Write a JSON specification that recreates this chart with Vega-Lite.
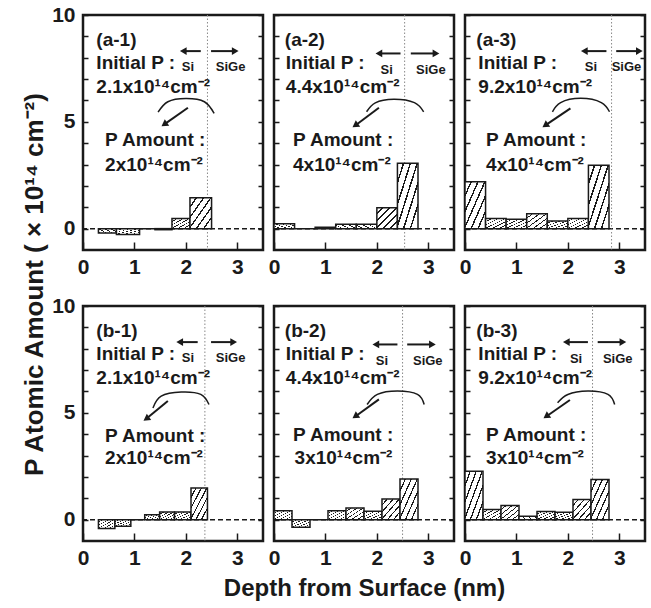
{
 "$schema": "https://vega.github.io/schema/vega-lite/v6.json",
 "padding": {"left": 19, "top": 2, "right": 5, "bottom": 5},
 "background": "white",
 "columns": 3,
 "spacing": {"row": 56, "column": 11},
 "bounds": "flush",
 "datasets": {
  "zero": [{"y": 0}],
  "iface": [
   {"panel": "a-1", "depth": 2.42}, {"panel": "a-2", "depth": 2.54}, {"panel": "a-3", "depth": 2.85},
   {"panel": "b-1", "depth": 2.37}, {"panel": "b-2", "depth": 2.5}, {"panel": "b-3", "depth": 2.48}
  ],
  "bars": [
   {"panel": "a-1", "x0": 0.3, "x1": 0.65, "amount": -0.2},
   {"panel": "a-1", "x0": 0.65, "x1": 1.1, "amount": -0.27},
   {"panel": "a-1", "x0": 1.1, "x1": 1.4, "amount": 0},
   {"panel": "a-1", "x0": 1.4, "x1": 1.73, "amount": -0.05},
   {"panel": "a-1", "x0": 1.73, "x1": 2.08, "amount": 0.47},
   {"panel": "a-1", "x0": 2.08, "x1": 2.5, "amount": 1.44},
   {"panel": "a-2", "x0": 0, "x1": 0.4, "amount": 0.23},
   {"panel": "a-2", "x0": 0.4, "x1": 0.8, "amount": 0},
   {"panel": "a-2", "x0": 0.8, "x1": 1.2, "amount": 0.06},
   {"panel": "a-2", "x0": 1.2, "x1": 1.6, "amount": 0.2},
   {"panel": "a-2", "x0": 1.6, "x1": 2.0, "amount": 0.2},
   {"panel": "a-2", "x0": 2.0, "x1": 2.4, "amount": 0.98},
   {"panel": "a-2", "x0": 2.4, "x1": 2.8, "amount": 3.06},
   {"panel": "a-3", "x0": 0, "x1": 0.4, "amount": 2.19},
   {"panel": "a-3", "x0": 0.4, "x1": 0.8, "amount": 0.47},
   {"panel": "a-3", "x0": 0.8, "x1": 1.2, "amount": 0.44},
   {"panel": "a-3", "x0": 1.2, "x1": 1.6, "amount": 0.7},
   {"panel": "a-3", "x0": 1.6, "x1": 2.0, "amount": 0.36},
   {"panel": "a-3", "x0": 2.0, "x1": 2.4, "amount": 0.48},
   {"panel": "a-3", "x0": 2.4, "x1": 2.8, "amount": 2.97},
   {"panel": "b-1", "x0": 0.3, "x1": 0.62, "amount": -0.42},
   {"panel": "b-1", "x0": 0.62, "x1": 0.93, "amount": -0.31},
   {"panel": "b-1", "x0": 0.93, "x1": 1.2, "amount": 0},
   {"panel": "b-1", "x0": 1.2, "x1": 1.49, "amount": 0.23},
   {"panel": "b-1", "x0": 1.49, "x1": 1.78, "amount": 0.36},
   {"panel": "b-1", "x0": 1.78, "x1": 2.1, "amount": 0.36},
   {"panel": "b-1", "x0": 2.1, "x1": 2.42, "amount": 1.48},
   {"panel": "b-2", "x0": 0, "x1": 0.35, "amount": 0.42},
   {"panel": "b-2", "x0": 0.35, "x1": 0.7, "amount": -0.36},
   {"panel": "b-2", "x0": 0.7, "x1": 1.05, "amount": 0},
   {"panel": "b-2", "x0": 1.05, "x1": 1.4, "amount": 0.42},
   {"panel": "b-2", "x0": 1.4, "x1": 1.75, "amount": 0.55},
   {"panel": "b-2", "x0": 1.75, "x1": 2.1, "amount": 0.39},
   {"panel": "b-2", "x0": 2.1, "x1": 2.45, "amount": 0.97},
   {"panel": "b-2", "x0": 2.45, "x1": 2.8, "amount": 1.9},
   {"panel": "b-3", "x0": 0, "x1": 0.35, "amount": 2.27},
   {"panel": "b-3", "x0": 0.35, "x1": 0.7, "amount": 0.47},
   {"panel": "b-3", "x0": 0.7, "x1": 1.05, "amount": 0.66},
   {"panel": "b-3", "x0": 1.05, "x1": 1.4, "amount": 0.16},
   {"panel": "b-3", "x0": 1.4, "x1": 1.75, "amount": 0.38},
   {"panel": "b-3", "x0": 1.75, "x1": 2.1, "amount": 0.34},
   {"panel": "b-3", "x0": 2.1, "x1": 2.45, "amount": 0.94},
   {"panel": "b-3", "x0": 2.45, "x1": 2.8, "amount": 1.88}
  ],
  "texts": [
   {"panel": "a-1", "role": "main", "x": 0.26, "y": 8.83, "t": "(a-1)"},
   {"panel": "a-1", "role": "main", "x": 0.26, "y": 7.73, "t": "Initial P :"},
   {"panel": "a-1", "role": "main", "x": 0.26, "y": 6.64, "t": "2.1x10¹⁴cm⁻²"},
   {"panel": "a-1", "role": "main", "x": 0.43, "y": 4.14, "t": "P Amount :"},
   {"panel": "a-1", "role": "main", "x": 0.43, "y": 2.97, "t": "2x10¹⁴cm⁻²"},
   {"panel": "a-1", "role": "small", "x": 2.04, "y": 7.58, "t": "Si"},
   {"panel": "a-1", "role": "small", "x": 2.87, "y": 7.58, "t": "SiGe"},
   {"panel": "a-2", "role": "main", "x": 0.21, "y": 8.83, "t": "(a-2)"},
   {"panel": "a-2", "role": "main", "x": 0.23, "y": 7.73, "t": "Initial P :"},
   {"panel": "a-2", "role": "main", "x": 0.23, "y": 6.64, "t": "4.4x10¹⁴cm⁻²"},
   {"panel": "a-2", "role": "main", "x": 0.37, "y": 4.14, "t": "P Amount :"},
   {"panel": "a-2", "role": "main", "x": 0.37, "y": 2.97, "t": "4x10¹⁴cm⁻²"},
   {"panel": "a-2", "role": "small", "x": 2.19, "y": 7.42, "t": "Si"},
   {"panel": "a-2", "role": "small", "x": 3.05, "y": 7.42, "t": "SiGe"},
   {"panel": "a-3", "role": "main", "x": 0.22, "y": 8.83, "t": "(a-3)"},
   {"panel": "a-3", "role": "main", "x": 0.26, "y": 7.73, "t": "Initial P :"},
   {"panel": "a-3", "role": "main", "x": 0.26, "y": 6.64, "t": "9.2x10¹⁴cm⁻²"},
   {"panel": "a-3", "role": "main", "x": 0.41, "y": 4.14, "t": "P Amount :"},
   {"panel": "a-3", "role": "main", "x": 0.41, "y": 2.97, "t": "4x10¹⁴cm⁻²"},
   {"panel": "a-3", "role": "small", "x": 2.45, "y": 7.58, "t": "Si"},
   {"panel": "a-3", "role": "small", "x": 3.14, "y": 7.58, "t": "SiGe"},
   {"panel": "b-1", "role": "main", "x": 0.26, "y": 8.83, "t": "(b-1)"},
   {"panel": "b-1", "role": "main", "x": 0.26, "y": 7.73, "t": "Initial P :"},
   {"panel": "b-1", "role": "main", "x": 0.26, "y": 6.64, "t": "2.1x10¹⁴cm⁻²"},
   {"panel": "b-1", "role": "main", "x": 0.43, "y": 3.9, "t": "P Amount :"},
   {"panel": "b-1", "role": "main", "x": 0.43, "y": 2.89, "t": "2x10¹⁴cm⁻²"},
   {"panel": "b-1", "role": "small", "x": 2.04, "y": 7.58, "t": "Si"},
   {"panel": "b-1", "role": "small", "x": 2.87, "y": 7.58, "t": "SiGe"},
   {"panel": "b-2", "role": "main", "x": 0.21, "y": 8.83, "t": "(b-2)"},
   {"panel": "b-2", "role": "main", "x": 0.23, "y": 7.73, "t": "Initial P :"},
   {"panel": "b-2", "role": "main", "x": 0.23, "y": 6.64, "t": "4.4x10¹⁴cm⁻²"},
   {"panel": "b-2", "role": "main", "x": 0.37, "y": 3.98, "t": "P Amount :"},
   {"panel": "b-2", "role": "main", "x": 0.4, "y": 2.89, "t": "3x10¹⁴cm⁻²"},
   {"panel": "b-2", "role": "small", "x": 2.1, "y": 7.42, "t": "Si"},
   {"panel": "b-2", "role": "small", "x": 2.99, "y": 7.42, "t": "SiGe"},
   {"panel": "b-3", "role": "main", "x": 0.22, "y": 8.83, "t": "(b-3)"},
   {"panel": "b-3", "role": "main", "x": 0.26, "y": 7.73, "t": "Initial P :"},
   {"panel": "b-3", "role": "main", "x": 0.26, "y": 6.64, "t": "9.2x10¹⁴cm⁻²"},
   {"panel": "b-3", "role": "main", "x": 0.41, "y": 3.98, "t": "P Amount :"},
   {"panel": "b-3", "role": "main", "x": 0.41, "y": 2.89, "t": "3x10¹⁴cm⁻²"},
   {"panel": "b-3", "role": "small", "x": 2.16, "y": 7.5, "t": "Si"},
   {"panel": "b-3", "role": "small", "x": 2.97, "y": 7.5, "t": "SiGe"}
  ],
  "harrows": [
   {"panel": "a-1", "xs": 2.29, "xe": 1.95, "y": 8.31, "dir": "left"},
   {"panel": "a-1", "xs": 2.49, "xe": 2.96, "y": 8.31, "dir": "right"},
   {"panel": "a-2", "xs": 2.46, "xe": 2.04, "y": 8.2, "dir": "left"},
   {"panel": "a-2", "xs": 2.66, "xe": 3.15, "y": 8.2, "dir": "right"},
   {"panel": "a-3", "xs": 2.75, "xe": 2.32, "y": 8.31, "dir": "left"},
   {"panel": "a-3", "xs": 2.94, "xe": 3.39, "y": 8.31, "dir": "right"},
   {"panel": "b-1", "xs": 2.23, "xe": 1.88, "y": 8.31, "dir": "left"},
   {"panel": "b-1", "xs": 2.49, "xe": 2.93, "y": 8.31, "dir": "right"},
   {"panel": "b-2", "xs": 2.4, "xe": 1.98, "y": 8.2, "dir": "left"},
   {"panel": "b-2", "xs": 2.59, "xe": 3.08, "y": 8.2, "dir": "right"},
   {"panel": "b-3", "xs": 2.39, "xe": 1.97, "y": 8.31, "dir": "left"},
   {"panel": "b-3", "xs": 2.58, "xe": 3.07, "y": 8.31, "dir": "right"}
  ],
  "darrows": [
   {"panel": "a-1", "xs": 2.04, "ys": 5.66, "xe": 1.58, "ye": 4.88},
   {"panel": "a-2", "xs": 2.04, "ys": 5.66, "xe": 1.58, "ye": 4.83},
   {"panel": "a-3", "xs": 2.05, "ys": 5.63, "xe": 1.56, "ye": 4.83},
   {"panel": "b-1", "xs": 1.65, "ys": 5.55, "xe": 1.23, "ye": 4.72},
   {"panel": "b-2", "xs": 2.04, "ys": 5.63, "xe": 1.58, "ye": 4.83},
   {"panel": "b-3", "xs": 2.04, "ys": 5.6, "xe": 1.58, "ye": 4.83}
  ],
  "arcs": [
   {"panel": "a-1", "seq": 1, "x": 1.46, "y": 5.45}, {"panel": "a-1", "seq": 2, "x": 1.65, "y": 5.94}, {"panel": "a-1", "seq": 3, "x": 2.0, "y": 6.09}, {"panel": "a-1", "seq": 4, "x": 2.36, "y": 5.94}, {"panel": "a-1", "seq": 5, "x": 2.55, "y": 5.39},
   {"panel": "a-2", "seq": 1, "x": 1.8, "y": 5.47}, {"panel": "a-2", "seq": 2, "x": 1.97, "y": 5.89}, {"panel": "a-2", "seq": 3, "x": 2.33, "y": 6.06}, {"panel": "a-2", "seq": 4, "x": 2.73, "y": 5.9}, {"panel": "a-2", "seq": 5, "x": 2.91, "y": 5.47},
   {"panel": "a-3", "seq": 1, "x": 1.7, "y": 5.47}, {"panel": "a-3", "seq": 2, "x": 1.86, "y": 5.9}, {"panel": "a-3", "seq": 3, "x": 2.25, "y": 6.1}, {"panel": "a-3", "seq": 4, "x": 2.65, "y": 5.9}, {"panel": "a-3", "seq": 5, "x": 2.81, "y": 5.47},
   {"panel": "b-1", "seq": 1, "x": 1.36, "y": 5.23}, {"panel": "b-1", "seq": 2, "x": 1.52, "y": 5.78}, {"panel": "b-1", "seq": 3, "x": 1.91, "y": 5.97}, {"panel": "b-1", "seq": 4, "x": 2.29, "y": 5.86}, {"panel": "b-1", "seq": 5, "x": 2.45, "y": 5.39},
   {"panel": "b-2", "seq": 1, "x": 1.81, "y": 5.39}, {"panel": "b-2", "seq": 2, "x": 2.01, "y": 5.86}, {"panel": "b-2", "seq": 3, "x": 2.4, "y": 6.02}, {"panel": "b-2", "seq": 4, "x": 2.79, "y": 5.86}, {"panel": "b-2", "seq": 5, "x": 2.92, "y": 5.39},
   {"panel": "b-3", "seq": 1, "x": 1.8, "y": 5.47}, {"panel": "b-3", "seq": 2, "x": 2.0, "y": 5.86}, {"panel": "b-3", "seq": 3, "x": 2.39, "y": 6.02}, {"panel": "b-3", "seq": 4, "x": 2.78, "y": 5.86}, {"panel": "b-3", "seq": 5, "x": 2.91, "y": 5.39}
  ]
 },
 "concat": [
  {"width": 180, "height": 235, "resolve": {"axis": {"y": "independent"}}, "layer": [
   {"layer": [
    {"data": {"name": "zero"}, "mark": {"type": "rule", "strokeDash": [5, 3], "strokeWidth": 1.5, "color": "#1a1a1a"},
     "encoding": {"y": {"field": "y", "type": "quantitative", "scale": {"domain": [-1, 10], "nice": false},
      "axis": {"values": [0, 5, 10], "format": "d", "ticks": false, "labelPadding": 8, "labelOverlap": false,
       "title": "P Atomic Amount ( × 10¹⁴ cm⁻²)", "titleX": -49, "titleY": 269, "titleAngle": 270, "titleAlign": "center", "titleBaseline": "middle", "titleFontSize": 26}}}},
    {"data": {"name": "iface"}, "transform": [{"filter": "datum.panel === 'a-1'"}], "mark": {"type": "rule", "strokeDash": [1.5, 2], "strokeWidth": 1, "color": "#888888"},
     "encoding": {"x": {"field": "depth", "type": "quantitative", "scale": {"domain": [0, 3.5], "nice": false}, "axis": {"values": [0,1,2,3], "format": "d", "tickSize": -8, "labelPadding": 14, "labelFlush": false, "title": null}}}},
    {"data": {"name": "bars"}, "transform": [{"filter": "datum.panel === 'a-1'"}], "mark": {"type": "rect"},
     "encoding": {"x": {"field": "x0", "type": "quantitative"}, "x2": {"field": "x1"}, "y": {"field": "amount", "type": "quantitative"}, "y2": {"datum": 0}}},
    {"data": {"name": "arcs"}, "transform": [{"filter": "datum.panel === 'a-1'"}], "mark": {"type": "line", "interpolate": "natural", "color": "#1a1a1a", "strokeWidth": 1.5},
     "encoding": {"x": {"field": "x", "type": "quantitative"}, "y": {"field": "y", "type": "quantitative"}, "order": {"field": "seq", "type": "quantitative"}}},
    {"data": {"name": "harrows"}, "transform": [{"filter": "datum.panel === 'a-1'"}], "mark": {"type": "rule", "strokeWidth": 2, "color": "#1a1a1a"},
     "encoding": {"x": {"field": "xs", "type": "quantitative"}, "x2": {"field": "xe"}, "y": {"field": "y", "type": "quantitative"}}},
    {"data": {"name": "harrows"}, "transform": [{"filter": "datum.panel === 'a-1'"}], "mark": {"type": "point", "filled": true, "size": 60, "color": "#1a1a1a", "opacity": 1},
     "encoding": {"x": {"field": "xe", "type": "quantitative"}, "y": {"field": "y", "type": "quantitative"}, "shape": {"field": "dir", "type": "nominal", "scale": {"domain": ["left", "right"], "range": ["triangle-left", "triangle-right"]}, "legend": null}}},
    {"data": {"name": "darrows"}, "transform": [{"filter": "datum.panel === 'a-1'"}], "mark": {"type": "rule", "strokeWidth": 2, "color": "#1a1a1a"},
     "encoding": {"x": {"field": "xs", "type": "quantitative"}, "y": {"field": "ys", "type": "quantitative"}, "x2": {"field": "xe"}, "y2": {"field": "ye"}}},
    {"data": {"name": "darrows"}, "transform": [{"filter": "datum.panel === 'a-1'"}], "mark": {"type": "point", "shape": "triangle-up", "filled": true, "size": 60, "angle": 235, "color": "#1a1a1a", "opacity": 1},
     "encoding": {"x": {"field": "xe", "type": "quantitative"}, "y": {"field": "ye", "type": "quantitative"}}},
    {"data": {"name": "texts"}, "transform": [{"filter": "datum.panel === 'a-1' && datum.role === 'main'"}], "mark": {"type": "text", "align": "left", "baseline": "middle", "fontSize": 19},
     "encoding": {"x": {"field": "x", "type": "quantitative"}, "y": {"field": "y", "type": "quantitative"}, "text": {"field": "t"}}},
    {"data": {"name": "texts"}, "transform": [{"filter": "datum.panel === 'a-1' && datum.role === 'small'"}], "mark": {"type": "text", "align": "center", "baseline": "middle", "fontSize": 13},
     "encoding": {"x": {"field": "x", "type": "quantitative"}, "y": {"field": "y", "type": "quantitative"}, "text": {"field": "t"}}}
   ]},
   {"data": {"name": "zero"}, "mark": {"type": "rule", "opacity": 0},
    "encoding": {"y": {"field": "y", "type": "quantitative", "axis": {"orient": "right", "values": [0,1,2,3,4,5,6,7,8,9,10], "ticks": false, "labels": false, "title": null, "grid": true, "gridDash": [5, 170, 5, 0], "gridColor": "#1a1a1a", "gridWidth": 1.5, "gridOpacity": 1}}}}
  ]},
  {"width": 180, "height": 235, "resolve": {"axis": {"y": "independent"}}, "layer": [
   {"layer": [
    {"data": {"name": "zero"}, "mark": {"type": "rule", "strokeDash": [5, 3], "strokeWidth": 1.5, "color": "#1a1a1a"},
     "encoding": {"y": {"field": "y", "type": "quantitative", "scale": {"domain": [-1, 10], "nice": false}, "axis": null}}},
    {"data": {"name": "iface"}, "transform": [{"filter": "datum.panel === 'a-2'"}], "mark": {"type": "rule", "strokeDash": [1.5, 2], "strokeWidth": 1, "color": "#888888"},
     "encoding": {"x": {"field": "depth", "type": "quantitative", "scale": {"domain": [0, 3.5], "nice": false}, "axis": {"values": [0,1,2,3], "format": "d", "tickSize": -8, "labelPadding": 14, "labelFlush": false, "title": null}}}},
    {"data": {"name": "bars"}, "transform": [{"filter": "datum.panel === 'a-2'"}], "mark": {"type": "rect"},
     "encoding": {"x": {"field": "x0", "type": "quantitative"}, "x2": {"field": "x1"}, "y": {"field": "amount", "type": "quantitative"}, "y2": {"datum": 0}}},
    {"data": {"name": "arcs"}, "transform": [{"filter": "datum.panel === 'a-2'"}], "mark": {"type": "line", "interpolate": "natural", "color": "#1a1a1a", "strokeWidth": 1.5},
     "encoding": {"x": {"field": "x", "type": "quantitative"}, "y": {"field": "y", "type": "quantitative"}, "order": {"field": "seq", "type": "quantitative"}}},
    {"data": {"name": "harrows"}, "transform": [{"filter": "datum.panel === 'a-2'"}], "mark": {"type": "rule", "strokeWidth": 2, "color": "#1a1a1a"},
     "encoding": {"x": {"field": "xs", "type": "quantitative"}, "x2": {"field": "xe"}, "y": {"field": "y", "type": "quantitative"}}},
    {"data": {"name": "harrows"}, "transform": [{"filter": "datum.panel === 'a-2'"}], "mark": {"type": "point", "filled": true, "size": 60, "color": "#1a1a1a", "opacity": 1},
     "encoding": {"x": {"field": "xe", "type": "quantitative"}, "y": {"field": "y", "type": "quantitative"}, "shape": {"field": "dir", "type": "nominal", "scale": {"domain": ["left", "right"], "range": ["triangle-left", "triangle-right"]}, "legend": null}}},
    {"data": {"name": "darrows"}, "transform": [{"filter": "datum.panel === 'a-2'"}], "mark": {"type": "rule", "strokeWidth": 2, "color": "#1a1a1a"},
     "encoding": {"x": {"field": "xs", "type": "quantitative"}, "y": {"field": "ys", "type": "quantitative"}, "x2": {"field": "xe"}, "y2": {"field": "ye"}}},
    {"data": {"name": "darrows"}, "transform": [{"filter": "datum.panel === 'a-2'"}], "mark": {"type": "point", "shape": "triangle-up", "filled": true, "size": 60, "angle": 235, "color": "#1a1a1a", "opacity": 1},
     "encoding": {"x": {"field": "xe", "type": "quantitative"}, "y": {"field": "ye", "type": "quantitative"}}},
    {"data": {"name": "texts"}, "transform": [{"filter": "datum.panel === 'a-2' && datum.role === 'main'"}], "mark": {"type": "text", "align": "left", "baseline": "middle", "fontSize": 19},
     "encoding": {"x": {"field": "x", "type": "quantitative"}, "y": {"field": "y", "type": "quantitative"}, "text": {"field": "t"}}},
    {"data": {"name": "texts"}, "transform": [{"filter": "datum.panel === 'a-2' && datum.role === 'small'"}], "mark": {"type": "text", "align": "center", "baseline": "middle", "fontSize": 13},
     "encoding": {"x": {"field": "x", "type": "quantitative"}, "y": {"field": "y", "type": "quantitative"}, "text": {"field": "t"}}}
   ]},
   {"data": {"name": "zero"}, "mark": {"type": "rule", "opacity": 0},
    "encoding": {"y": {"field": "y", "type": "quantitative", "axis": {"orient": "right", "values": [0,1,2,3,4,5,6,7,8,9,10], "ticks": false, "labels": false, "title": null, "grid": true, "gridDash": [5, 170, 5, 0], "gridColor": "#1a1a1a", "gridWidth": 1.5, "gridOpacity": 1}}}}
  ]},
  {"width": 180, "height": 235, "resolve": {"axis": {"y": "independent"}}, "layer": [
   {"layer": [
    {"data": {"name": "zero"}, "mark": {"type": "rule", "strokeDash": [5, 3], "strokeWidth": 1.5, "color": "#1a1a1a"},
     "encoding": {"y": {"field": "y", "type": "quantitative", "scale": {"domain": [-1, 10], "nice": false}, "axis": null}}},
    {"data": {"name": "iface"}, "transform": [{"filter": "datum.panel === 'a-3'"}], "mark": {"type": "rule", "strokeDash": [1.5, 2], "strokeWidth": 1, "color": "#888888"},
     "encoding": {"x": {"field": "depth", "type": "quantitative", "scale": {"domain": [0, 3.5], "nice": false}, "axis": {"values": [0,1,2,3], "format": "d", "tickSize": -8, "labelPadding": 14, "labelFlush": false, "title": null}}}},
    {"data": {"name": "bars"}, "transform": [{"filter": "datum.panel === 'a-3'"}], "mark": {"type": "rect"},
     "encoding": {"x": {"field": "x0", "type": "quantitative"}, "x2": {"field": "x1"}, "y": {"field": "amount", "type": "quantitative"}, "y2": {"datum": 0}}},
    {"data": {"name": "arcs"}, "transform": [{"filter": "datum.panel === 'a-3'"}], "mark": {"type": "line", "interpolate": "natural", "color": "#1a1a1a", "strokeWidth": 1.5},
     "encoding": {"x": {"field": "x", "type": "quantitative"}, "y": {"field": "y", "type": "quantitative"}, "order": {"field": "seq", "type": "quantitative"}}},
    {"data": {"name": "harrows"}, "transform": [{"filter": "datum.panel === 'a-3'"}], "mark": {"type": "rule", "strokeWidth": 2, "color": "#1a1a1a"},
     "encoding": {"x": {"field": "xs", "type": "quantitative"}, "x2": {"field": "xe"}, "y": {"field": "y", "type": "quantitative"}}},
    {"data": {"name": "harrows"}, "transform": [{"filter": "datum.panel === 'a-3'"}], "mark": {"type": "point", "filled": true, "size": 60, "color": "#1a1a1a", "opacity": 1},
     "encoding": {"x": {"field": "xe", "type": "quantitative"}, "y": {"field": "y", "type": "quantitative"}, "shape": {"field": "dir", "type": "nominal", "scale": {"domain": ["left", "right"], "range": ["triangle-left", "triangle-right"]}, "legend": null}}},
    {"data": {"name": "darrows"}, "transform": [{"filter": "datum.panel === 'a-3'"}], "mark": {"type": "rule", "strokeWidth": 2, "color": "#1a1a1a"},
     "encoding": {"x": {"field": "xs", "type": "quantitative"}, "y": {"field": "ys", "type": "quantitative"}, "x2": {"field": "xe"}, "y2": {"field": "ye"}}},
    {"data": {"name": "darrows"}, "transform": [{"filter": "datum.panel === 'a-3'"}], "mark": {"type": "point", "shape": "triangle-up", "filled": true, "size": 60, "angle": 235, "color": "#1a1a1a", "opacity": 1},
     "encoding": {"x": {"field": "xe", "type": "quantitative"}, "y": {"field": "ye", "type": "quantitative"}}},
    {"data": {"name": "texts"}, "transform": [{"filter": "datum.panel === 'a-3' && datum.role === 'main'"}], "mark": {"type": "text", "align": "left", "baseline": "middle", "fontSize": 19},
     "encoding": {"x": {"field": "x", "type": "quantitative"}, "y": {"field": "y", "type": "quantitative"}, "text": {"field": "t"}}},
    {"data": {"name": "texts"}, "transform": [{"filter": "datum.panel === 'a-3' && datum.role === 'small'"}], "mark": {"type": "text", "align": "center", "baseline": "middle", "fontSize": 13},
     "encoding": {"x": {"field": "x", "type": "quantitative"}, "y": {"field": "y", "type": "quantitative"}, "text": {"field": "t"}}}
   ]},
   {"data": {"name": "zero"}, "mark": {"type": "rule", "opacity": 0},
    "encoding": {"y": {"field": "y", "type": "quantitative", "axis": {"orient": "right", "values": [0,1,2,3,4,5,6,7,8,9,10], "ticks": false, "labels": false, "title": null, "grid": true, "gridDash": [5, 170, 5, 0], "gridColor": "#1a1a1a", "gridWidth": 1.5, "gridOpacity": 1}}}}
  ]},
  {"width": 180, "height": 235, "resolve": {"axis": {"y": "independent"}}, "layer": [
   {"layer": [
    {"data": {"name": "zero"}, "mark": {"type": "rule", "strokeDash": [5, 3], "strokeWidth": 1.5, "color": "#1a1a1a"},
     "encoding": {"y": {"field": "y", "type": "quantitative", "scale": {"domain": [-1, 10], "nice": false},
      "axis": {"values": [0, 5, 10], "format": "d", "ticks": false, "labelPadding": 8, "labelOverlap": false, "title": null}}}},
    {"data": {"name": "iface"}, "transform": [{"filter": "datum.panel === 'b-1'"}], "mark": {"type": "rule", "strokeDash": [1.5, 2], "strokeWidth": 1, "color": "#888888"},
     "encoding": {"x": {"field": "depth", "type": "quantitative", "scale": {"domain": [0, 3.5], "nice": false}, "axis": {"values": [0,1,2,3], "format": "d", "tickSize": -8, "labelPadding": 14, "labelFlush": false, "title": null}}}},
    {"data": {"name": "bars"}, "transform": [{"filter": "datum.panel === 'b-1'"}], "mark": {"type": "rect"},
     "encoding": {"x": {"field": "x0", "type": "quantitative"}, "x2": {"field": "x1"}, "y": {"field": "amount", "type": "quantitative"}, "y2": {"datum": 0}}},
    {"data": {"name": "arcs"}, "transform": [{"filter": "datum.panel === 'b-1'"}], "mark": {"type": "line", "interpolate": "natural", "color": "#1a1a1a", "strokeWidth": 1.5},
     "encoding": {"x": {"field": "x", "type": "quantitative"}, "y": {"field": "y", "type": "quantitative"}, "order": {"field": "seq", "type": "quantitative"}}},
    {"data": {"name": "harrows"}, "transform": [{"filter": "datum.panel === 'b-1'"}], "mark": {"type": "rule", "strokeWidth": 2, "color": "#1a1a1a"},
     "encoding": {"x": {"field": "xs", "type": "quantitative"}, "x2": {"field": "xe"}, "y": {"field": "y", "type": "quantitative"}}},
    {"data": {"name": "harrows"}, "transform": [{"filter": "datum.panel === 'b-1'"}], "mark": {"type": "point", "filled": true, "size": 60, "color": "#1a1a1a", "opacity": 1},
     "encoding": {"x": {"field": "xe", "type": "quantitative"}, "y": {"field": "y", "type": "quantitative"}, "shape": {"field": "dir", "type": "nominal", "scale": {"domain": ["left", "right"], "range": ["triangle-left", "triangle-right"]}, "legend": null}}},
    {"data": {"name": "darrows"}, "transform": [{"filter": "datum.panel === 'b-1'"}], "mark": {"type": "rule", "strokeWidth": 2, "color": "#1a1a1a"},
     "encoding": {"x": {"field": "xs", "type": "quantitative"}, "y": {"field": "ys", "type": "quantitative"}, "x2": {"field": "xe"}, "y2": {"field": "ye"}}},
    {"data": {"name": "darrows"}, "transform": [{"filter": "datum.panel === 'b-1'"}], "mark": {"type": "point", "shape": "triangle-up", "filled": true, "size": 60, "angle": 235, "color": "#1a1a1a", "opacity": 1},
     "encoding": {"x": {"field": "xe", "type": "quantitative"}, "y": {"field": "ye", "type": "quantitative"}}},
    {"data": {"name": "texts"}, "transform": [{"filter": "datum.panel === 'b-1' && datum.role === 'main'"}], "mark": {"type": "text", "align": "left", "baseline": "middle", "fontSize": 19},
     "encoding": {"x": {"field": "x", "type": "quantitative"}, "y": {"field": "y", "type": "quantitative"}, "text": {"field": "t"}}},
    {"data": {"name": "texts"}, "transform": [{"filter": "datum.panel === 'b-1' && datum.role === 'small'"}], "mark": {"type": "text", "align": "center", "baseline": "middle", "fontSize": 13},
     "encoding": {"x": {"field": "x", "type": "quantitative"}, "y": {"field": "y", "type": "quantitative"}, "text": {"field": "t"}}}
   ]},
   {"data": {"name": "zero"}, "mark": {"type": "rule", "opacity": 0},
    "encoding": {"y": {"field": "y", "type": "quantitative", "axis": {"orient": "right", "values": [0,1,2,3,4,5,6,7,8,9,10], "ticks": false, "labels": false, "title": null, "grid": true, "gridDash": [5, 170, 5, 0], "gridColor": "#1a1a1a", "gridWidth": 1.5, "gridOpacity": 1}}}}
  ]},
  {"width": 180, "height": 235, "resolve": {"axis": {"y": "independent"}}, "layer": [
   {"layer": [
    {"data": {"name": "zero"}, "mark": {"type": "rule", "strokeDash": [5, 3], "strokeWidth": 1.5, "color": "#1a1a1a"},
     "encoding": {"y": {"field": "y", "type": "quantitative", "scale": {"domain": [-1, 10], "nice": false}, "axis": null}}},
    {"data": {"name": "iface"}, "transform": [{"filter": "datum.panel === 'b-2'"}], "mark": {"type": "rule", "strokeDash": [1.5, 2], "strokeWidth": 1, "color": "#888888"},
     "encoding": {"x": {"field": "depth", "type": "quantitative", "scale": {"domain": [0, 3.5], "nice": false}, "axis": {"values": [0,1,2,3], "format": "d", "tickSize": -8, "labelPadding": 14, "labelFlush": false, "title": "Depth from Surface (nm)", "titleFontSize": 24, "titlePadding": 8}}}},
    {"data": {"name": "bars"}, "transform": [{"filter": "datum.panel === 'b-2'"}], "mark": {"type": "rect"},
     "encoding": {"x": {"field": "x0", "type": "quantitative"}, "x2": {"field": "x1"}, "y": {"field": "amount", "type": "quantitative"}, "y2": {"datum": 0}}},
    {"data": {"name": "arcs"}, "transform": [{"filter": "datum.panel === 'b-2'"}], "mark": {"type": "line", "interpolate": "natural", "color": "#1a1a1a", "strokeWidth": 1.5},
     "encoding": {"x": {"field": "x", "type": "quantitative"}, "y": {"field": "y", "type": "quantitative"}, "order": {"field": "seq", "type": "quantitative"}}},
    {"data": {"name": "harrows"}, "transform": [{"filter": "datum.panel === 'b-2'"}], "mark": {"type": "rule", "strokeWidth": 2, "color": "#1a1a1a"},
     "encoding": {"x": {"field": "xs", "type": "quantitative"}, "x2": {"field": "xe"}, "y": {"field": "y", "type": "quantitative"}}},
    {"data": {"name": "harrows"}, "transform": [{"filter": "datum.panel === 'b-2'"}], "mark": {"type": "point", "filled": true, "size": 60, "color": "#1a1a1a", "opacity": 1},
     "encoding": {"x": {"field": "xe", "type": "quantitative"}, "y": {"field": "y", "type": "quantitative"}, "shape": {"field": "dir", "type": "nominal", "scale": {"domain": ["left", "right"], "range": ["triangle-left", "triangle-right"]}, "legend": null}}},
    {"data": {"name": "darrows"}, "transform": [{"filter": "datum.panel === 'b-2'"}], "mark": {"type": "rule", "strokeWidth": 2, "color": "#1a1a1a"},
     "encoding": {"x": {"field": "xs", "type": "quantitative"}, "y": {"field": "ys", "type": "quantitative"}, "x2": {"field": "xe"}, "y2": {"field": "ye"}}},
    {"data": {"name": "darrows"}, "transform": [{"filter": "datum.panel === 'b-2'"}], "mark": {"type": "point", "shape": "triangle-up", "filled": true, "size": 60, "angle": 235, "color": "#1a1a1a", "opacity": 1},
     "encoding": {"x": {"field": "xe", "type": "quantitative"}, "y": {"field": "ye", "type": "quantitative"}}},
    {"data": {"name": "texts"}, "transform": [{"filter": "datum.panel === 'b-2' && datum.role === 'main'"}], "mark": {"type": "text", "align": "left", "baseline": "middle", "fontSize": 19},
     "encoding": {"x": {"field": "x", "type": "quantitative"}, "y": {"field": "y", "type": "quantitative"}, "text": {"field": "t"}}},
    {"data": {"name": "texts"}, "transform": [{"filter": "datum.panel === 'b-2' && datum.role === 'small'"}], "mark": {"type": "text", "align": "center", "baseline": "middle", "fontSize": 13},
     "encoding": {"x": {"field": "x", "type": "quantitative"}, "y": {"field": "y", "type": "quantitative"}, "text": {"field": "t"}}}
   ]},
   {"data": {"name": "zero"}, "mark": {"type": "rule", "opacity": 0},
    "encoding": {"y": {"field": "y", "type": "quantitative", "axis": {"orient": "right", "values": [0,1,2,3,4,5,6,7,8,9,10], "ticks": false, "labels": false, "title": null, "grid": true, "gridDash": [5, 170, 5, 0], "gridColor": "#1a1a1a", "gridWidth": 1.5, "gridOpacity": 1}}}}
  ]},
  {"width": 180, "height": 235, "resolve": {"axis": {"y": "independent"}}, "layer": [
   {"layer": [
    {"data": {"name": "zero"}, "mark": {"type": "rule", "strokeDash": [5, 3], "strokeWidth": 1.5, "color": "#1a1a1a"},
     "encoding": {"y": {"field": "y", "type": "quantitative", "scale": {"domain": [-1, 10], "nice": false}, "axis": null}}},
    {"data": {"name": "iface"}, "transform": [{"filter": "datum.panel === 'b-3'"}], "mark": {"type": "rule", "strokeDash": [1.5, 2], "strokeWidth": 1, "color": "#888888"},
     "encoding": {"x": {"field": "depth", "type": "quantitative", "scale": {"domain": [0, 3.5], "nice": false}, "axis": {"values": [0,1,2,3], "format": "d", "tickSize": -8, "labelPadding": 14, "labelFlush": false, "title": null}}}},
    {"data": {"name": "bars"}, "transform": [{"filter": "datum.panel === 'b-3'"}], "mark": {"type": "rect"},
     "encoding": {"x": {"field": "x0", "type": "quantitative"}, "x2": {"field": "x1"}, "y": {"field": "amount", "type": "quantitative"}, "y2": {"datum": 0}}},
    {"data": {"name": "arcs"}, "transform": [{"filter": "datum.panel === 'b-3'"}], "mark": {"type": "line", "interpolate": "natural", "color": "#1a1a1a", "strokeWidth": 1.5},
     "encoding": {"x": {"field": "x", "type": "quantitative"}, "y": {"field": "y", "type": "quantitative"}, "order": {"field": "seq", "type": "quantitative"}}},
    {"data": {"name": "harrows"}, "transform": [{"filter": "datum.panel === 'b-3'"}], "mark": {"type": "rule", "strokeWidth": 2, "color": "#1a1a1a"},
     "encoding": {"x": {"field": "xs", "type": "quantitative"}, "x2": {"field": "xe"}, "y": {"field": "y", "type": "quantitative"}}},
    {"data": {"name": "harrows"}, "transform": [{"filter": "datum.panel === 'b-3'"}], "mark": {"type": "point", "filled": true, "size": 60, "color": "#1a1a1a", "opacity": 1},
     "encoding": {"x": {"field": "xe", "type": "quantitative"}, "y": {"field": "y", "type": "quantitative"}, "shape": {"field": "dir", "type": "nominal", "scale": {"domain": ["left", "right"], "range": ["triangle-left", "triangle-right"]}, "legend": null}}},
    {"data": {"name": "darrows"}, "transform": [{"filter": "datum.panel === 'b-3'"}], "mark": {"type": "rule", "strokeWidth": 2, "color": "#1a1a1a"},
     "encoding": {"x": {"field": "xs", "type": "quantitative"}, "y": {"field": "ys", "type": "quantitative"}, "x2": {"field": "xe"}, "y2": {"field": "ye"}}},
    {"data": {"name": "darrows"}, "transform": [{"filter": "datum.panel === 'b-3'"}], "mark": {"type": "point", "shape": "triangle-up", "filled": true, "size": 60, "angle": 235, "color": "#1a1a1a", "opacity": 1},
     "encoding": {"x": {"field": "xe", "type": "quantitative"}, "y": {"field": "ye", "type": "quantitative"}}},
    {"data": {"name": "texts"}, "transform": [{"filter": "datum.panel === 'b-3' && datum.role === 'main'"}], "mark": {"type": "text", "align": "left", "baseline": "middle", "fontSize": 19},
     "encoding": {"x": {"field": "x", "type": "quantitative"}, "y": {"field": "y", "type": "quantitative"}, "text": {"field": "t"}}},
    {"data": {"name": "texts"}, "transform": [{"filter": "datum.panel === 'b-3' && datum.role === 'small'"}], "mark": {"type": "text", "align": "center", "baseline": "middle", "fontSize": 13},
     "encoding": {"x": {"field": "x", "type": "quantitative"}, "y": {"field": "y", "type": "quantitative"}, "text": {"field": "t"}}}
   ]},
   {"data": {"name": "zero"}, "mark": {"type": "rule", "opacity": 0},
    "encoding": {"y": {"field": "y", "type": "quantitative", "axis": {"orient": "right", "values": [0,1,2,3,4,5,6,7,8,9,10], "ticks": false, "labels": false, "title": null, "grid": true, "gridDash": [5, 170, 5, 0], "gridColor": "#1a1a1a", "gridWidth": 1.5, "gridOpacity": 1}}}}
  ]}
 ],
 "config": {
  "font": "Liberation Sans",
  "view": {"stroke": "#1a1a1a", "strokeWidth": 2.5},
  "axis": {"domain": false, "grid": false, "ticks": true, "tickColor": "#1a1a1a", "tickWidth": 1.5,
   "labelFont": "Liberation Sans", "labelFontWeight": "bold", "labelFontSize": 21, "labelColor": "#1a1a1a",
   "titleFont": "Liberation Sans", "titleFontWeight": "bold", "titleColor": "#1a1a1a"},
  "text": {"font": "Liberation Sans", "fontWeight": "bold", "color": "#1a1a1a"},
  "rect": {"stroke": "#1a1a1a", "strokeWidth": 1.5, "fill": {"gradient": "linear", "x1": 0, "y1": 0, "x2": 1, "y2": 1, "stops": [
   {"offset": 0, "color": "white"},
   {"offset": 0.13, "color": "white"}, {"offset": 0.13, "color": "#1a1a1a"}, {"offset": 0.1667, "color": "#1a1a1a"}, {"offset": 0.1667, "color": "white"},
   {"offset": 0.2967, "color": "white"}, {"offset": 0.2967, "color": "#1a1a1a"}, {"offset": 0.3333, "color": "#1a1a1a"}, {"offset": 0.3333, "color": "white"},
   {"offset": 0.4633, "color": "white"}, {"offset": 0.4633, "color": "#1a1a1a"}, {"offset": 0.5, "color": "#1a1a1a"}, {"offset": 0.5, "color": "white"},
   {"offset": 0.63, "color": "white"}, {"offset": 0.63, "color": "#1a1a1a"}, {"offset": 0.6667, "color": "#1a1a1a"}, {"offset": 0.6667, "color": "white"},
   {"offset": 0.7967, "color": "white"}, {"offset": 0.7967, "color": "#1a1a1a"}, {"offset": 0.8333, "color": "#1a1a1a"}, {"offset": 0.8333, "color": "white"},
   {"offset": 1, "color": "white"}]}}
 }
}
